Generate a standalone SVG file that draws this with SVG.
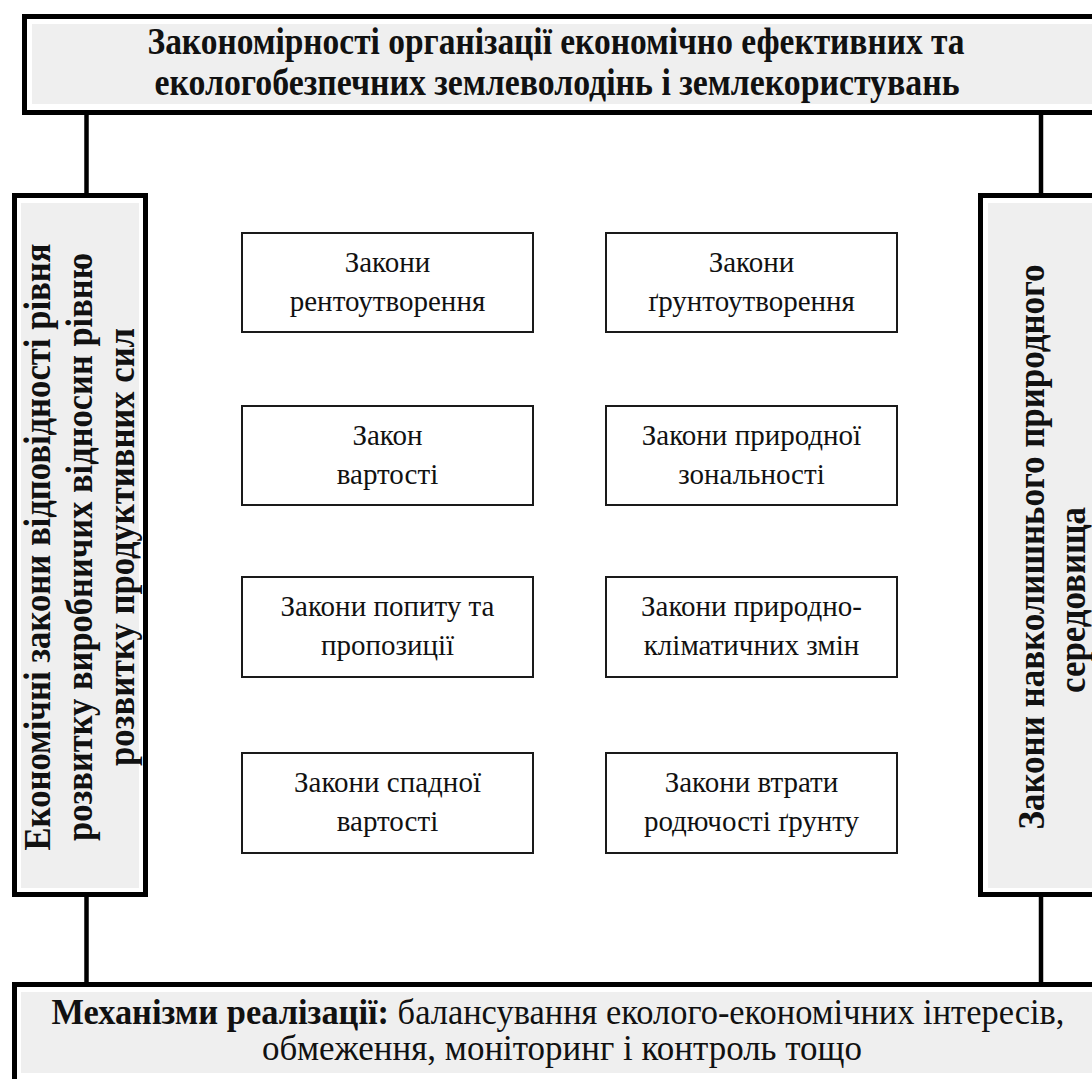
<svg xmlns="http://www.w3.org/2000/svg" width="1092" height="1079" viewBox="0 0 1092 1079">
<style>
.frame{fill:#ffffff;stroke:#000000;stroke-width:5}
.shade{fill:#efefef}
.box{fill:#ffffff;stroke:#1a1a1a;stroke-width:2}
.conn{stroke:#000000;stroke-width:4.5;fill:none}
.hb{font-family:"Liberation Serif","Times New Roman",serif;font-weight:bold;fill:#111111}
.hr{font-family:"Liberation Serif","Times New Roman",serif;font-weight:normal;fill:#111111}
.t{font-family:"Liberation Serif","Times New Roman",serif;font-size:29px;fill:#111111;text-anchor:middle}
</style>
<rect width="1092" height="1079" fill="#ffffff"/>
<g id="connectors">
<line class="conn" x1="86.5" y1="112" x2="86.5" y2="196"/>
<line class="conn" x1="86.5" y1="894" x2="86.5" y2="985"/>
<line class="conn" x1="1041" y1="112" x2="1041" y2="196"/>
<line class="conn" x1="1041" y1="894" x2="1041" y2="985"/>
</g>
<g id="top">
<rect class="frame" x="24.5" y="16.5" width="1100" height="96"/>
<rect class="shade" x="32" y="24" width="1070" height="80"/>
<text class="hb" font-size="38" x="556" y="54" text-anchor="middle" textLength="817" lengthAdjust="spacingAndGlyphs">Закономірності організації економічно ефективних та</text>
<text class="hb" font-size="38" x="557" y="95" text-anchor="middle" textLength="805" lengthAdjust="spacingAndGlyphs">екологобезпечних землеволодінь і землекористувань</text>
</g>
<g id="left">
<rect class="frame" x="14.5" y="195.5" width="131" height="699"/>
<rect class="shade" x="21" y="203" width="118" height="685"/>
<g transform="translate(0,547) rotate(-90)">
<text class="hb" font-size="37" x="0" y="50" text-anchor="middle" textLength="607" lengthAdjust="spacingAndGlyphs">Економічні закони відповідності рівня</text>
<text class="hb" font-size="37" x="0" y="92" text-anchor="middle" textLength="588" lengthAdjust="spacingAndGlyphs">розвитку виробничих відносин рівню</text>
<text class="hb" font-size="37" x="0" y="134" text-anchor="middle" textLength="438" lengthAdjust="spacingAndGlyphs">розвитку продуктивних сил</text>
</g>
</g>
<g id="right">
<rect class="frame" x="980.5" y="195.5" width="200" height="699"/>
<rect class="shade" x="988" y="203" width="110" height="685"/>
<g transform="translate(0,547) rotate(-90)">
<text class="hb" font-size="37" x="0" y="1044" text-anchor="middle" textLength="565" lengthAdjust="spacingAndGlyphs">Закони навколишнього природного</text>
<text class="hb" font-size="37" x="-53" y="1085" text-anchor="middle" textLength="186" lengthAdjust="spacingAndGlyphs">середовища</text>
</g>
</g>
<g id="bottom">
<rect class="frame" x="14.5" y="984.5" width="1100" height="200"/>
<rect class="shade" x="21" y="992" width="1080" height="81"/>
<text x="558" y="1024" text-anchor="middle" font-size="35" textLength="1013" lengthAdjust="spacingAndGlyphs"><tspan class="hb">Механізми реалізації:</tspan><tspan class="hr"> балансування еколого-економічних інтересів,</tspan></text>
<text class="hr" x="562" y="1060" text-anchor="middle" font-size="35" textLength="600" lengthAdjust="spacingAndGlyphs">обмеження, моніторинг і контроль тощо</text>
</g>
<g id="n1"><rect class="box" x="242" y="233" width="291" height="99"/><text class="t" x="387.5" y="272">Закони</text><text class="t" x="387.5" y="311">рентоутворення</text></g>
<g id="n2"><rect class="box" x="606" y="233" width="291" height="99"/><text class="t" x="751.5" y="272">Закони</text><text class="t" x="751.5" y="311">ґрунтоутворення</text></g>
<g id="n3"><rect class="box" x="242" y="406" width="291" height="99"/><text class="t" x="387.5" y="445">Закон</text><text class="t" x="387.5" y="484">вартості</text></g>
<g id="n4"><rect class="box" x="606" y="406" width="291" height="99"/><text class="t" x="751.5" y="445">Закони природної</text><text class="t" x="751.5" y="484">зональності</text></g>
<g id="n5"><rect class="box" x="242" y="577" width="291" height="100"/><text class="t" x="387.5" y="616">Закони попиту та</text><text class="t" x="387.5" y="655">пропозиції</text></g>
<g id="n6"><rect class="box" x="606" y="577" width="291" height="100"/><text class="t" x="751.5" y="616">Закони природно-</text><text class="t" x="751.5" y="655">кліматичних змін</text></g>
<g id="n7"><rect class="box" x="242" y="753" width="291" height="100"/><text class="t" x="387.5" y="792">Закони спадної</text><text class="t" x="387.5" y="831">вартості</text></g>
<g id="n8"><rect class="box" x="606" y="753" width="291" height="100"/><text class="t" x="751.5" y="792">Закони втрати</text><text class="t" x="751.5" y="831">родючості ґрунту</text></g>
</svg>
